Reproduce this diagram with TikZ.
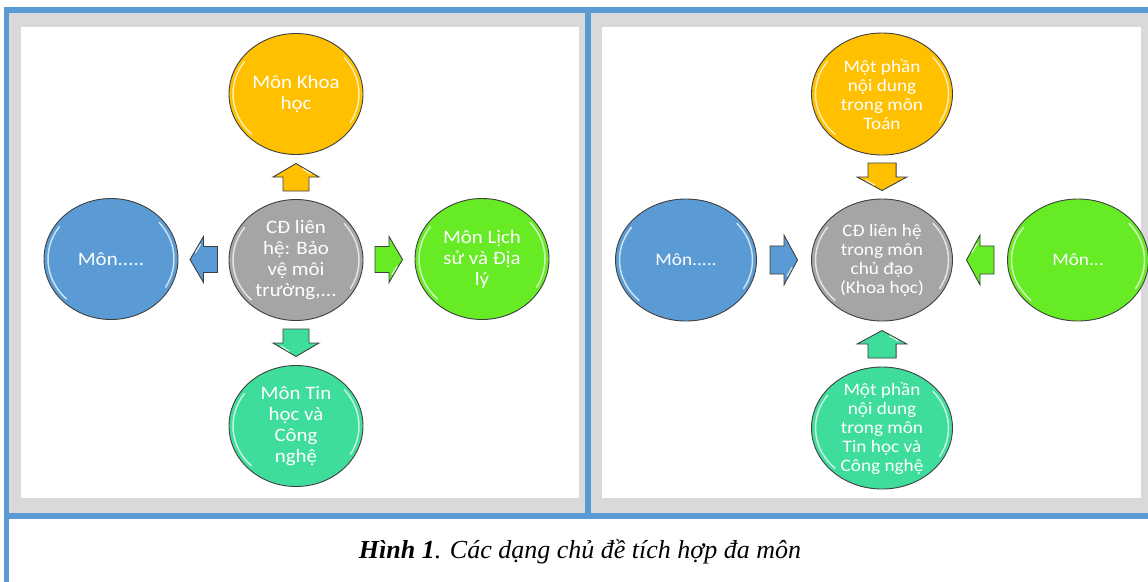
\documentclass[tikz,border=0pt]{standalone}
\usepackage{fontspec}
\usetikzlibrary{shapes.geometric,calc}
\newfontfamily\bubblefont[FakeStretch=1.1]{Carlito}
\newfontfamily\captionfont{Liberation Serif}

\definecolor{frameblue}{HTML}{5B9BD5}
\definecolor{panelgray}{HTML}{D9D9D9}
\definecolor{rimgray}{HTML}{3F3F3F}
\definecolor{sunyellow}{HTML}{FFC000}
\definecolor{skyblue}{HTML}{5B9BD5}
\definecolor{limegreen}{HTML}{66EB24}
\definecolor{mintgreen}{HTML}{3FDD9B}
\definecolor{stonegray}{HTML}{A5A5A5}

\tikzset{
  glint/.style={white, opacity=.7, line width=1.5pt, line cap=round},
  bubble/.style={ellipse, draw=rimgray, line width=0.9pt, inner sep=-8pt, align=center, text=white},
  bubbleL/.style={bubble, minimum width=134, minimum height=121,
    font=\bubblefont\fontsize{19}{21}\selectfont,
    path picture={
      \draw[glint] ([shift={(135:63 and 56.5)}]path picture bounding box.center) arc[start angle=135, end angle=215, x radius=63, y radius=56.5];
      \draw[glint] ([shift={(-40:63 and 56.5)}]path picture bounding box.center) arc[start angle=-40, end angle=30, x radius=63, y radius=56.5];
    }},
  bubbleR/.style={bubble, minimum width=141, minimum height=122,
    font=\bubblefont\fontsize{17.5}{19}\selectfont,
    path picture={
      \draw[glint] ([shift={(135:66.5 and 57)}]path picture bounding box.center) arc[start angle=135, end angle=215, x radius=66.5, y radius=57];
      \draw[glint] ([shift={(-40:66.5 and 57)}]path picture bounding box.center) arc[start angle=-40, end angle=30, x radius=66.5, y radius=57];
    }},
  blockarrow/.pic={
    \filldraw[draw=rimgray, line width=0.9pt, line join=miter] (-14,-13) -- (0,-13) -- (0,-23) -- (13.5,0) -- (0,23) -- (0,13) -- (-14,13) -- cycle;
    \draw[glint, line width=1.3pt] (3,15) -- (8,7);
  }
}

\begin{document}
\begin{tikzpicture}[x=1pt,y=-1pt]
\useasboundingbox (0,0) rectangle (1148,581);
\draw[fill=white,white] (0,0) rectangle (1148,581);

% panels and frame
\draw[fill=panelgray,panelgray] (8,12) rectangle (585,513);
\draw[fill=panelgray,panelgray] (590,12) rectangle (1148,513);
\draw[fill=white,white] (21,27) rectangle (578,497);
\draw[fill=white,white] (602,27) rectangle (1140,497);
\draw[fill=frameblue,frameblue] (4,7) rectangle (1148,12);
\draw[fill=frameblue,frameblue] (4,7) rectangle (8,581);
\draw[fill=frameblue,frameblue] (585,7) rectangle (590,518);
\draw[fill=frameblue,frameblue] (4,513) rectangle (1148,518);

% left diagram
\node[bubbleL, fill=stonegray] (gL) at (296,260) {CĐ liên\\hệ: Bảo\\vệ môi\\trường,...};
\node[bubbleL, fill=sunyellow] (yL) at (296,94) {Môn Khoa\\học};
\node[bubbleL, fill=skyblue] (bL) at (111,259) {Môn.....};
\node[bubbleL, fill=limegreen] (grL) at (482,259) {Môn Lịch\\sử và Địa\\lý};
\node[bubbleL, fill=mintgreen] (tL) at (296,426) {Môn Tin\\học và\\Công\\nghệ};

\pic[rotate=90, fill=sunyellow] at ($(gL.north)!.5!(yL.south)$) {blockarrow};
\pic[rotate=180, fill=skyblue] at ($(gL.west)!.5!(bL.east)$) {blockarrow};
\pic[rotate=0, fill=limegreen] at ($(gL.east)!.5!(grL.west)$) {blockarrow};
\pic[rotate=-90, fill=mintgreen] at ($(gL.south)!.5!(tL.north)$) {blockarrow};

% right diagram
\node[bubbleR, fill=stonegray] (gR) at (882,260) {CĐ liên hệ\\trong môn\\chủ đạo\\(Khoa học)};
\node[bubbleR, fill=sunyellow] (yR) at (882,94) {Một phần\\nội dung\\trong môn\\Toán};
\node[bubbleR, fill=skyblue] (bR) at (686,260) {Môn.....};
\node[bubbleR, fill=limegreen] (grR) at (1078,260) {Môn...};
\node[bubbleR, fill=mintgreen] (tR) at (882,428) {Một phần\\nội dung\\trong môn\\Tin học và\\Công nghệ};

\pic[rotate=-90, yscale=1.08, fill=sunyellow] at ($(yR.south)!.5!(gR.north)$) {blockarrow};
\pic[rotate=0, yscale=1.08, fill=skyblue] at ($(bR.east)!.5!(gR.west)$) {blockarrow};
\pic[rotate=180, yscale=1.08, fill=limegreen] at ($(grR.west)!.5!(gR.east)$) {blockarrow};
\pic[rotate=90, yscale=1.08, fill=mintgreen] at ($(tR.north)!.5!(gR.south)$) {blockarrow};

% caption
\node[font=\captionfont\itshape\fontsize{26}{30}\selectfont] (cap) at (580,552) {\textbf{Hình 1}. Các dạng chủ đề tích hợp đa môn};

\end{tikzpicture}
\end{document}
